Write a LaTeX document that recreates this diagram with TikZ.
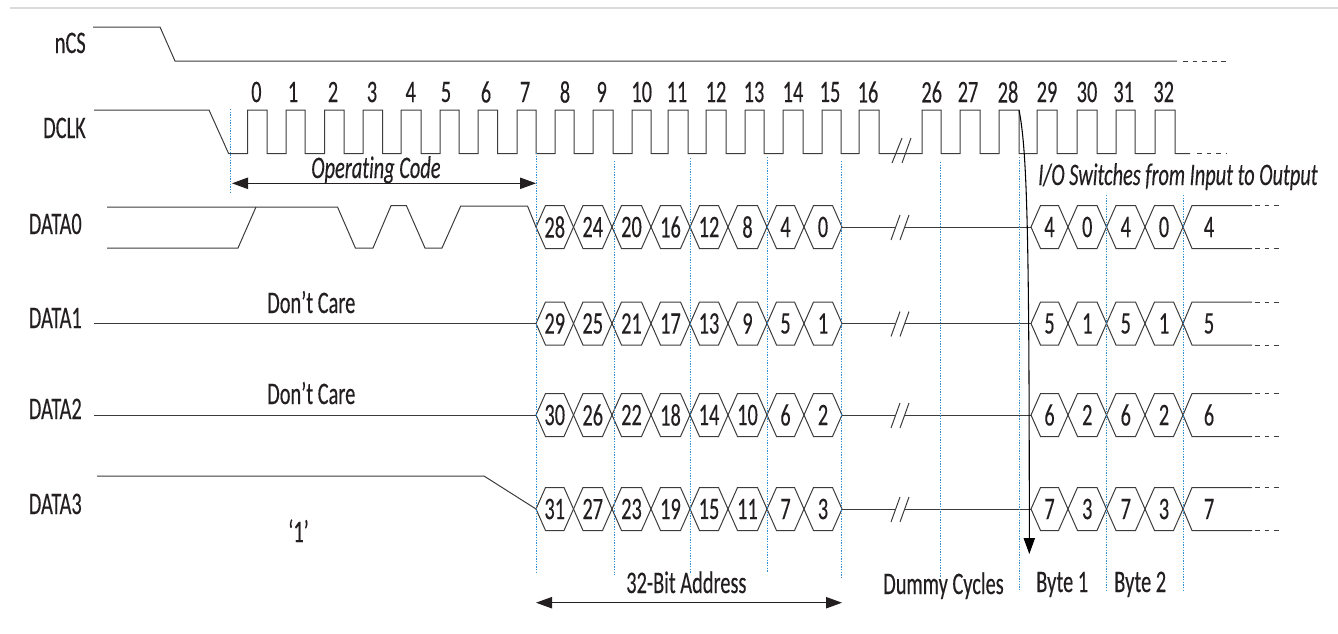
\documentclass[tikz,border=0pt]{standalone}
\usepackage{fontspec}
\setmainfont[FakeStretch=0.65,FakeBold=0.25,Ligatures=NoCommon]{Carlito}
\usepackage{tikz}
\usetikzlibrary{arrows.meta}
\definecolor{wave gray}{HTML}{3C3C3C}
\definecolor{ink}{HTML}{231F20}
\definecolor{guide blue}{HTML}{2F8FD0}
\tikzset{wave style/.style={
		draw=wave gray,
		line width=0.75pt,
		line join=miter,
	},
	tail style/.style={
		draw=wave gray,
		line width=0.6pt,
		dash pattern=on 3.6pt off 3.6pt,
	},
	guide style/.style={
		draw=guide blue,
		line width=0.7pt,
		dash pattern=on 1pt off 1pt,
	},
	span style/.style={
		draw=ink,
		line width=0.8pt,
		{Triangle[length=12pt,width=8.5pt]}-{Triangle[length=12pt,width=8.5pt]},
	},
	label style/.style={
		text=ink,
		inner sep=0pt,
		font=\fontsize{23.5}{26}\selectfont,
	},
	signal style/.style={
		label style,
		anchor=base east,
	},
	note style/.style={
		label style,
		anchor=base west,
	}
}
\begin{document}
\begin{tikzpicture}[x=0.75pt,y=-0.75pt]
	\useasboundingbox (0,0) rectangle (1338,633);
	\draw[draw=black!14,line width=1.5pt] (10,7.5) -- (1338,7.5);

	\node[signal style] (nCS) at (86,53) {nCS};
	\node[signal style] (DCLK) at (86,138) {DCLK};
	\node[signal style] (DATA0) at (82,234) {DATA0};
	\node[signal style] (DATA1) at (82,328) {DATA1};
	\node[signal style] (DATA2) at (82,419) {DATA2};
	\node[signal style] (DATA3) at (82,514) {DATA3};

	\draw[wave style] (93,27) -- (160,27) -- (175,61) -- (1177,61);
	\draw[tail style] (1183,61) -- (1228,61);

	\draw[wave style] (94,110) -- (209,110) -- (228.6,153.5)
		\foreach \up/\down in {247.5/267,286/305,324.6/344,363/382.5,401/421,440/459,478/497.5,517/536,555/574,593/613,632/651,668/688,706/726,745/764,783/803,822/841,859/879,922/941,960/980,999/1019,1037/1057,1077/1097,1116/1135,1155/1175}
		{ -- (\up,153.5) -- (\up,110) -- (\down,110) -- (\down,153.5) }
		-- (1190,153.5);
	\draw[tail style] (1197,153.5) -- (1226,153.5);
	\draw[wave style] (892,163) -- (902,138) (902,163) -- (911,138);

	\foreach \num/\numx in {0/256.4,1/293,2/333,3/372,4/410.7,5/446,6/486,7/525,8/565,9/601.7,10/641.7,11/677,12/716,13/754,14/793,15/830,16/868,26/931.7,27/968,28/1008,29/1047,30/1087,31/1123.7,32/1163.7}
		\node[label style] (clk\num) at (\numx,92) {\num};

	\draw[wave style] (107,207) -- (337.5,207) -- (355.4,248) -- (373,248) -- (391,205.7) -- (406.4,205.7) -- (425,248) -- (442,248) -- (460.7,206) -- (527.5,206) -- (536,227);
	\draw[wave style] (107,248) -- (238,248) -- (256,207);
	\draw[wave style] (94,323.5) -- (536,323.5);
	\draw[wave style] (94,415) -- (536,415);
	\draw[wave style] (97,476) -- (484,476) -- (536,509);

	\node[note style] (care1) at (267,313) {Don’t Care};
	\node[note style] (care2) at (267,404) {Don’t Care};
	\node[note style] (one) at (288,542) {‘1’};

	\foreach \row/\midy in {0/227,1/323.5,2/415,3/509} {
		\pgfmathsetmacro\topy{\midy-21.5}
		\pgfmathsetmacro\boty{\midy+21.5}
		\foreach \lft/\rgt/\base/\cell in {536/573.5/28/a,573.5/612/24/b,612/651/20/c,651/690/16/d,690/728/12/e,728/767/8/f,767/804/4/g,804/842/0/h,1031/1068/4/i,1068/1106.5/0/j,1106.5/1145/4/k,1145/1183/0/l} {
			\pgfmathtruncatemacro\bit{\base+\row}
			\draw[wave style] (\lft,\midy) -- (\lft+9.5,\topy) -- (\rgt-9.5,\topy) -- (\rgt,\midy) -- (\rgt-9.5,\boty) -- (\lft+9.5,\boty) -- cycle;
			\node[label style] (bit\row\cell) at ({(\lft+\rgt)/2},\midy) {\bit};
		}
		\draw[wave style] (1252,\topy) -- (1192,\topy) -- (1183,\midy) -- (1192,\boty) -- (1252,\boty);
		\draw[tail style] (1255,\topy) -- (1281,\topy);
		\draw[tail style] (1255,\boty) -- (1281,\boty);
		\pgfmathtruncatemacro\bit{4+\row}
		\node[label style] (tail\row) at (1209,\midy) {\bit};
		\draw[wave style] (842,\midy) -- (895,\midy);
		\draw[wave style] (905,\midy) -- (1031,\midy);
		\draw[wave style] (891,\midy+13) -- (900,\midy-12);
		\draw[wave style] (900,\midy+13) -- (909,\midy-12);
	}

	\foreach \x/\ya/\yb in {230.5/109/193,536/153/572,614/161/575,690/158/573,767/157/573,841.5/161/578,940.5/162/578,1019.5/157/591,1106.5/195/592,1183/195/592}
		\draw[guide style] (\x,\ya) -- (\x,\yb);

	\coordinate (opcodeL) at (232,183.3);
	\coordinate (opcodeR) at (536,183.3);
	\draw[span style] (opcodeL) -- (opcodeR);
	\node[note style,font=\fontsize{23.5}{26}\selectfont\itshape] (opcode) at (311,178) {Operating Code};

	\coordinate (addrL) at (536,602.7);
	\coordinate (addrR) at (842,602.7);
	\draw[span style] (addrL) -- (addrR);
	\node[note style] (addr) at (626,593) {32-Bit Address};
	\node[note style] (dummy) at (883,594) {Dummy Cycles};
	\node[note style] (byte1) at (1036,592) {Byte 1};
	\node[note style] (byte2) at (1114,592) {Byte 2};

	\coordinate (switchTop) at (1019,110);
	\coordinate (switchEnd) at (1029.3,554);
	\draw[draw=black,line width=0.8pt,-{Triangle[length=12pt,width=8.5pt]}] (switchTop) .. controls (1027,150) and (1029.3,230) .. (switchEnd);
	\node[note style,font=\fontsize{23.5}{26}\selectfont\itshape] (switch) at (1038,185) {I/O Switches from Input to Output};
\end{tikzpicture}
\end{document}
